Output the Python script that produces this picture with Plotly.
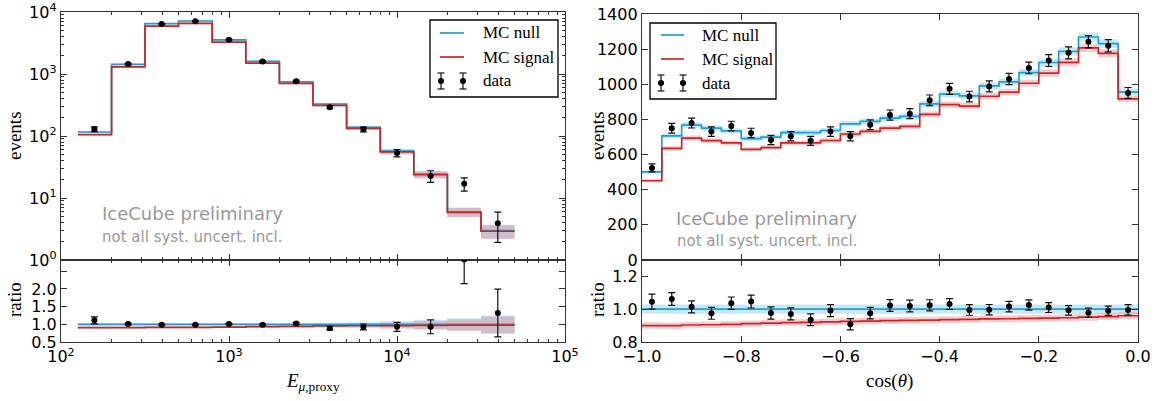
import plotly.graph_objects as go

W, H = 1164, 401

# ---------------- data: left panel (energy proxy) ----------------
E_edges = [126, 200, 316, 501, 794, 1259, 1995, 3162, 5012, 7943, 12589, 19953, 31623, 50119]
E_centers = [158, 251, 398, 631, 1000, 1585, 2512, 3981, 6310, 10000, 15849, 25119, 39811]
E_null = [116, 1430, 6470, 7160, 3540, 1600, 750, 328, 138, 57.3, 24.4, 6.0, 2.97]
E_signal = [105, 1300, 5920, 6550, 3260, 1495, 705, 313, 132.5, 55.3, 23.7, 5.88, 2.91]
E_data = [129, 1444, 6405, 7090, 3575, 1585, 765, 292, 128, 53.3, 22.7, 17.0, 3.92]
E_data_err = [11.4, 38.0, 80.0, 84.2, 59.8, 39.8, 27.7, 17.1, 11.3, 7.3, 4.8, 4.1, 2.0]
E_mc_relerr = [0.035, 0.03, 0.03, 0.03, 0.03, 0.03, 0.035, 0.045, 0.06, 0.09, 0.13, 0.17, 0.25]

# ---------------- data: right panel (cos zenith) ----------------
C_edges = [-1.00, -0.96, -0.92, -0.88, -0.84, -0.80, -0.76, -0.72, -0.68, -0.64, -0.60,
           -0.56, -0.52, -0.48, -0.44, -0.40, -0.36, -0.32, -0.28, -0.24, -0.20,
           -0.16, -0.12, -0.08, -0.04, 0.00]
C_centers = [-0.98, -0.94, -0.90, -0.86, -0.82, -0.78, -0.74, -0.70, -0.66, -0.62,
             -0.58, -0.54, -0.50, -0.46, -0.42, -0.38, -0.34, -0.30, -0.26, -0.22,
             -0.18, -0.14, -0.10, -0.06, -0.02]
C_null = [501, 706, 768, 750, 735, 691, 699, 725, 725, 737, 775, 789, 807, 817, 888,
          944, 934, 991, 1014, 1066, 1124, 1187, 1269, 1231, 955]
C_signal = [451, 635, 694, 679, 667, 630, 640, 666, 667, 680, 717, 732, 751, 761, 829,
            884, 876, 932, 955, 1006, 1063, 1125, 1207, 1176, 917]
C_data = [524, 750, 779, 731, 762, 723, 683, 704, 678, 731, 704, 770, 825, 833, 909,
          974, 930, 988, 1030, 1093, 1135, 1179, 1242, 1219, 951]
C_data_err = [22.9, 27.4, 27.9, 27.0, 27.6, 26.9, 26.1, 26.5, 26.0, 27.0, 26.5, 27.7, 28.7,
              28.9, 30.1, 31.2, 30.5, 31.4, 32.1, 33.1, 33.7, 34.3, 35.2, 34.9, 30.8]
C_mc_relerr = 0.02
C_null_ratio_relerr = 0.028
C_signal_ratio_relerr = 0.022

# ---------------- styles ----------------
BLUE = "#1f9fd2"
RED = "#d02424"
BLUE_BAND = "rgba(95,190,225,0.35)"
RED_BAND = "rgba(225,105,115,0.33)"
AX = "#333333"
SANS = "DejaVu Sans"
SERIF = "Liberation Serif"

fig = go.Figure()


def closed(vals):
    return list(vals) + [vals[-1]]


def add_band(xa, ya, edges, lo, hi, color):
    fig.add_trace(go.Scatter(x=edges, y=closed(lo), mode="lines",
                             line=dict(width=0, shape="hv"), xaxis=xa, yaxis=ya,
                             showlegend=False, hoverinfo="skip"))
    fig.add_trace(go.Scatter(x=edges, y=closed(hi), mode="lines",
                             line=dict(width=0, shape="hv"), fill="tonexty",
                             fillcolor=color, xaxis=xa, yaxis=ya,
                             showlegend=False, hoverinfo="skip"))


def add_step(xa, ya, edges, vals, color):
    fig.add_trace(go.Scatter(x=edges, y=closed(vals), mode="lines",
                             line=dict(color=color, width=1.7, shape="hv"),
                             xaxis=xa, yaxis=ya, showlegend=False, hoverinfo="skip"))


def add_data(xa, ya, xs, ys, errs):
    fig.add_trace(go.Scatter(x=xs, y=ys, mode="markers",
                             marker=dict(color="black", size=6),
                             error_y=dict(type="data", array=errs, color="#111111",
                                          thickness=1.2, width=3.5),
                             xaxis=xa, yaxis=ya, showlegend=False, hoverinfo="skip",
                             cliponaxis=True))


# ---- left main ----
add_band("x", "y", E_edges, [v * (1 - r) for v, r in zip(E_null, E_mc_relerr)],
         [v * (1 + r) for v, r in zip(E_null, E_mc_relerr)], BLUE_BAND)
add_band("x", "y", E_edges, [v * (1 - r) for v, r in zip(E_signal, E_mc_relerr)],
         [v * (1 + r) for v, r in zip(E_signal, E_mc_relerr)], RED_BAND)
add_step("x", "y", E_edges, E_null, BLUE)
add_step("x", "y", E_edges, E_signal, RED)
add_data("x", "y", E_centers, E_data, E_data_err)

# ---- left ratio ----
E_rsig = [s / n for s, n in zip(E_signal, E_null)]
add_band("x2", "y2", E_edges, [1 - r for r in E_mc_relerr], [1 + r for r in E_mc_relerr], BLUE_BAND)
add_band("x2", "y2", E_edges, [v * (1 - r) for v, r in zip(E_rsig, E_mc_relerr)],
         [v * (1 + r) for v, r in zip(E_rsig, E_mc_relerr)], RED_BAND)
add_step("x2", "y2", E_edges, [1.0] * len(E_null), BLUE)
add_step("x2", "y2", E_edges, E_rsig, RED)
add_data("x2", "y2", E_centers, [d / n for d, n in zip(E_data, E_null)],
         [e / n for e, n in zip(E_data_err, E_null)])

# ---- right main ----
add_band("x3", "y3", C_edges, [v * (1 - C_mc_relerr) for v in C_null],
         [v * (1 + C_mc_relerr) for v in C_null], BLUE_BAND)
add_band("x3", "y3", C_edges, [v * (1 - C_mc_relerr) for v in C_signal],
         [v * (1 + C_mc_relerr) for v in C_signal], RED_BAND)
add_step("x3", "y3", C_edges, C_null, BLUE)
add_step("x3", "y3", C_edges, C_signal, RED)
add_data("x3", "y3", C_centers, C_data, C_data_err)

# ---- right ratio ----
C_rsig = [s / n for s, n in zip(C_signal, C_null)]
add_band("x4", "y4", C_edges, [1 - C_null_ratio_relerr] * len(C_null),
         [1 + C_null_ratio_relerr] * len(C_null), BLUE_BAND)
add_band("x4", "y4", C_edges, [v * (1 - C_signal_ratio_relerr) for v in C_rsig],
         [v * (1 + C_signal_ratio_relerr) for v in C_rsig], RED_BAND)
add_step("x4", "y4", C_edges, [1.0] * len(C_null), BLUE)
add_step("x4", "y4", C_edges, C_rsig, RED)
add_data("x4", "y4", C_centers, [d / n for d, n in zip(C_data, C_null)],
         [e / n for e, n in zip(C_data_err, C_null)])

# ---------------- axes ----------------
def px(x):
    return x / W


def py(y):
    return 1 - y / H


base = dict(showline=True, linecolor=AX, linewidth=1.4, mirror="ticks", ticks="inside",
            ticklen=6, tickwidth=1, tickcolor=AX, showgrid=False, zeroline=False,
            automargin=False, tickfont=dict(family=SANS, size=16, color="black"))

log_minor_x = [k * 10 ** d for d in (2, 3, 4) for k in range(2, 10)]
log_minor_y = [k * 10 ** d for d in (0, 1, 2, 3) for k in range(2, 10)]
minor_style = dict(ticks="inside", ticklen=3, tickwidth=1, tickcolor=AX, showgrid=False)

LDOM = [px(61), px(565)]
RDOM = [px(642), px(1138)]

fig.update_layout(
    template="none",
    xaxis=dict(base, domain=LDOM, anchor="y", type="log", range=[2, 5],
               tickvals=[100, 1000, 10000, 100000], showticklabels=False,
               minor=dict(minor_style, tickvals=log_minor_x)),
    yaxis=dict(base, domain=[py(260), py(12)], anchor="x", type="log", range=[0, 4],
               tickvals=[1, 10, 100, 1000, 10000],
               ticktext=["10<sup>0</sup>", "10<sup>1</sup>", "10<sup>2</sup>",
                         "10<sup>3</sup>", "10<sup>4</sup>"],
               minor=dict(minor_style, tickvals=log_minor_y)),
    xaxis2=dict(base, domain=LDOM, anchor="y2", type="log", range=[2, 5],
                tickvals=[100, 1000, 10000, 100000],
                ticktext=["10<sup>2</sup>", "10<sup>3</sup>", "10<sup>4</sup>", "10<sup>5</sup>"],
                minor=dict(minor_style, tickvals=log_minor_x)),
    yaxis2=dict(base, domain=[py(342), py(260)], anchor="x2", range=[0.5, 2.82],
                tickvals=[0.5, 1.0, 1.5, 2.0, 2.5], ticktext=["0.5", "1.0", "1.5", "2.0", ""]),
    xaxis3=dict(base, domain=RDOM, anchor="y3", range=[-1, 0], dtick=0.2,
                showticklabels=False),
    yaxis3=dict(base, domain=[py(260), py(14)], anchor="x3", range=[0, 1400], dtick=200),
    xaxis4=dict(base, domain=RDOM, anchor="y4", range=[-1, 0], dtick=0.2, tickformat=".1f"),
    yaxis4=dict(base, domain=[py(342), py(260)], anchor="x4", range=[0.8, 1.3],
                tickvals=[0.8, 1.0, 1.2], ticktext=["0.8", "1.0", "1.2"]),
    width=W, height=H, margin=dict(l=0, r=0, t=0, b=0, pad=0), autosize=False,
    plot_bgcolor="white", paper_bgcolor="white", showlegend=False,
)

# ---------------- text ----------------
ann = []


def text(x, y, s, size, family, color="black", angle=0, xanchor="center"):
    ann.append(dict(x=px(x), y=py(y), xref="paper", yref="paper", text=s, showarrow=False,
                    font=dict(family=family, size=size, color=color), textangle=angle,
                    xanchor=xanchor, yanchor="middle"))


text(14, 136, "events", 19, SERIF, angle=-90)
text(14, 300, "ratio", 19, SERIF, angle=-90)
text(597, 136, "events", 19, SERIF, angle=-90)
text(597, 300, "ratio", 19, SERIF, angle=-90)
text(313, 382, "<i>E</i><sub><i>μ</i>,proxy</sub>", 19, SERIF)
text(889, 381, "cos(<i>θ</i>)", 19, SERIF)
text(192, 213, "IceCube preliminary", 18, SANS, color="#9a9a9a")
text(192, 237, "not all syst. uncert. incl.", 15, SANS, color="#9a9a9a")
text(766, 218, "IceCube preliminary", 18, SANS, color="#9a9a9a")
text(767, 241, "not all syst. uncert. incl.", 15, SANS, color="#9a9a9a")

# ---------------- legends (drawn in paper coords) ----------------
shapes = []


def legend(box, rows, lx0, lx1, dx0, dx1, tx):
    x0, x1, y0, y1 = box
    shapes.append(dict(type="rect", xref="paper", yref="paper", x0=px(x0), x1=px(x1),
                       y0=py(y1), y1=py(y0), line=dict(color="black", width=1.3),
                       fillcolor="white", layer="above"))
    for r, c in zip(rows[:2], [BLUE, RED]):
        shapes.append(dict(type="line", xref="paper", yref="paper", x0=px(lx0), x1=px(lx1),
                           y0=py(r), y1=py(r), line=dict(color=c, width=1.7), layer="above"))
    r = rows[2]
    for dx in (dx0, dx1):
        shapes.append(dict(type="line", xref="paper", yref="paper", x0=px(dx), x1=px(dx),
                           y0=py(r - 8), y1=py(r + 8), line=dict(color="#111", width=1.2),
                           layer="above"))
        for cy in (r - 8, r + 8):
            shapes.append(dict(type="line", xref="paper", yref="paper", x0=px(dx - 3.5),
                               x1=px(dx + 3.5), y0=py(cy), y1=py(cy),
                               line=dict(color="#111", width=1.2), layer="above"))
        shapes.append(dict(type="circle", xref="paper", yref="paper", x0=px(dx - 3),
                           x1=px(dx + 3), y0=py(r + 3), y1=py(r - 3),
                           fillcolor="black", line=dict(color="black", width=0), layer="above"))
    for r, s in zip(rows, ["MC null", "MC signal", "data"]):
        text(tx, r, s, 17, SERIF, xanchor="left")


legend((430, 558, 20, 97), (33, 57, 81), 440, 464, 441, 463, 481)
legend((650, 776, 23, 99), (35, 59, 83), 661, 684, 661, 683, 700)

fig.update_layout(annotations=ann, shapes=shapes)

fig.write_html("out.html", config={"displayModeBar": False},
               post_script="document.body.style.margin='0';document.body.style.overflow='hidden';")
